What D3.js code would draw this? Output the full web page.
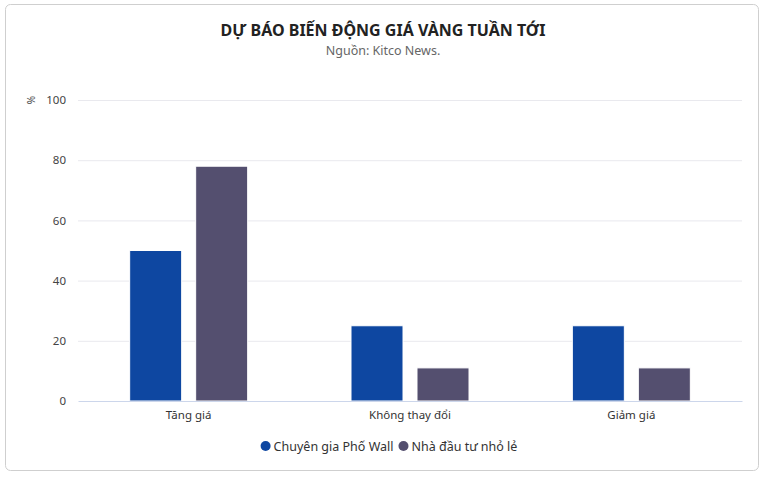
<!DOCTYPE html>
<html>
<head>
<meta charset="utf-8">
<script src="https://cdn.jsdelivr.net/npm/d3@7"></script>
<style>
  body { margin: 0; background: #fff; font-family: "Noto Sans", Lato, sans-serif; }
  svg { display: block; }
</style>
</head>
<body>
<svg width="765" height="481"></svg>
<script>
// Chart data
var categories = ['Tăng giá', 'Không thay đổi', 'Giảm giá'];
var seriesNames = ['Chuyên gia Phố Wall', 'Nhà đầu tư nhỏ lẻ'];
var wallStreet = [50, 25, 25];
var mainStreet = [78, 11, 11];
var yTicks = [0, 20, 40, 60, 80, 100];

var colors = ['#0e47a1', '#544f6f'];

var svg = d3.select('svg');

// Card frame
svg.append('rect')
    .attr('x', 5.5).attr('y', 4.5)
    .attr('width', 753).attr('height', 466)
    .attr('rx', 5)
    .attr('fill', '#fff')
    .attr('stroke', '#cfcfcf');

// Title and subtitle
svg.append('text')
    .attr('x', 383).attr('y', 36)
    .attr('text-anchor', 'middle')
    .attr('font-size', 16).attr('font-weight', 'bold')
    .attr('fill', '#222')
    .text('DỰ BÁO BIẾN ĐỘNG GIÁ VÀNG TUẦN TỚI');

svg.append('text')
    .attr('x', 383).attr('y', 55)
    .attr('text-anchor', 'middle')
    .attr('font-size', 12.5)
    .attr('fill', '#666')
    .text('Nguồn: Kitco News.');

var margin = { left: 78, right: 23, top: 100, bottom: 80 };
var width = 765 - margin.left - margin.right;
var height = 401 - margin.top;

var g = svg.append('g').attr('transform', 'translate(' + margin.left + ',' + margin.top + ')');

var groupWidth = 118;
var x = d3.scaleBand().domain(categories).range([0, width]);
var xInner = d3.scaleBand().domain([0, 1]).range([0, groupWidth]).paddingInner(0.212);
var y = d3.scaleLinear().domain([0, 100]).range([height, 0]);

// Gridlines
g.selectAll('.grid')
    .data(yTicks.filter(function (d) { return d > 0; }))
    .enter().append('line')
    .attr('x1', 0).attr('x2', width)
    .attr('y1', function (d) { return y(d) + 0.5; })
    .attr('y2', function (d) { return y(d) + 0.5; })
    .attr('stroke', '#e9e9ee');

// Y axis labels
var yAxis = g.append('g')
    .call(d3.axisLeft(y).tickValues(yTicks).tickSize(0).tickPadding(12));
yAxis.select('.domain').remove();
yAxis.selectAll('text')
    .attr('font-size', 11.5)
    .attr('font-family', '"Noto Sans", Lato, sans-serif')
    .attr('fill', '#444');

svg.append('text')
    .attr('transform', 'translate(35,100) rotate(-90)')
    .attr('text-anchor', 'middle')
    .attr('font-size', 10)
    .attr('fill', '#444')
    .text('%');

// Bars
var series = [wallStreet, mainStreet];
series.forEach(function (values, s) {
    g.selectAll('.bar' + s)
        .data(values)
        .enter().append('rect')
        .attr('x', function (d, i) { return x(categories[i]) + (x.bandwidth() - groupWidth) / 2 + xInner(s); })
        .attr('y', function (d) { return y(d); })
        .attr('width', xInner.bandwidth())
        .attr('height', function (d) { return y(0) - y(d); })
        .attr('fill', colors[s])
        .attr('stroke', '#fff')
        .attr('stroke-width', 1);
});

// X axis
var xAxis = g.append('g')
    .attr('transform', 'translate(0,' + height + ')')
    .call(d3.axisBottom(x).tickSize(0).tickPadding(10));
xAxis.select('.domain').attr('stroke', '#ccd6eb');
xAxis.selectAll('text')
    .attr('font-size', 11.5)
    .attr('font-family', '"Noto Sans", Lato, sans-serif')
    .attr('fill', '#333');

// Legend, measured and centred
var legend = svg.append('g');
var gap = 5;
var cursor = 0;
seriesNames.forEach(function (name, i) {
    var item = legend.append('g');
    item.append('circle')
        .attr('cx', 5).attr('cy', 0)
        .attr('r', 5)
        .attr('fill', colors[i]);
    var t = item.append('text')
        .attr('x', 13).attr('y', 4.5)
        .attr('font-size', 12.5)
        .attr('fill', '#333')
        .text(name);
    var w = 13 + t.node().getComputedTextLength();
    item.attr('transform', 'translate(' + cursor + ',0)');
    cursor += w + gap;
});
var total = cursor - gap;
legend.attr('transform', 'translate(' + (389 - total / 2) + ',446)');
</script>
</body>
</html>
